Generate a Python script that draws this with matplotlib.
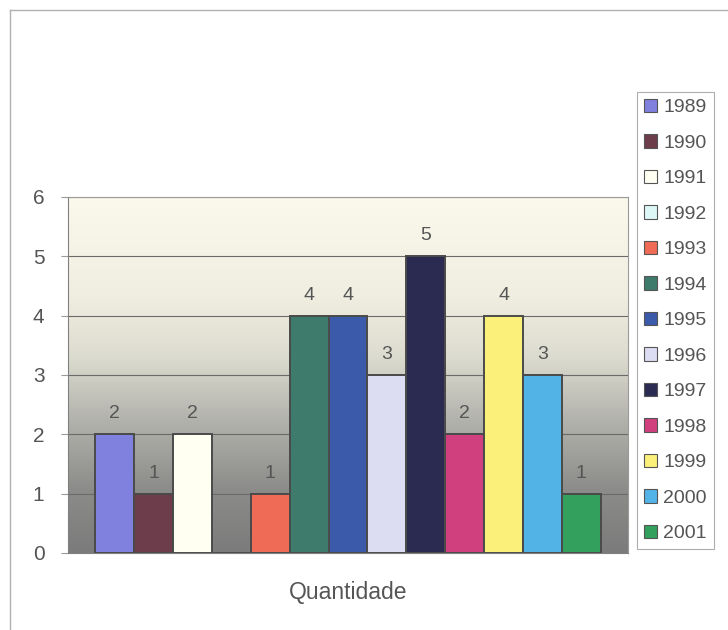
import numpy as np
import matplotlib
matplotlib.use("Agg")
import matplotlib.pyplot as plt
from matplotlib.patches import Patch
from matplotlib.lines import Line2D
from matplotlib.colors import LinearSegmentedColormap

years = ["1989", "1990", "1991", "1992", "1993", "1994", "1995",
         "1996", "1997", "1998", "1999", "2000", "2001"]
quantities = [2, 1, 2, 0, 1, 4, 4, 3, 5, 2, 4, 3, 1]
bar_colors = ["#8080df", "#6e3d4c", "#fffff2", "#ddf6f6", "#ef6b55",
              "#3e7b6c", "#3c5aaa", "#dcdcf2", "#2b2b52", "#d0407f",
              "#fbf07a", "#52b3e6", "#33a05e"]
category_label = "Quantidade"
y_ticks = [0, 1, 2, 3, 4, 5, 6]

plt.rcParams["font.family"] = ["Liberation Sans", "DejaVu Sans"]
text_color = "#555555"

fig = plt.figure(figsize=(7.28, 6.3), dpi=100)
W, H = 728, 630

# outer chart frame (left and top edges)
fig.add_artist(Line2D([10 / W, 10 / W], [0, 1 - 10 / H], color="#b0b0b0", lw=1.0))
fig.add_artist(Line2D([10 / W, 1], [1 - 10 / H, 1 - 10 / H], color="#b0b0b0", lw=1.0))

left, right, top, bottom = 68, 628, 197, 553
ax = fig.add_axes([left / W, 1 - bottom / H, (right - left) / W, (bottom - top) / H])

# vertical gradient background: cream at top, grey at bottom
grad_cmap = LinearSegmentedColormap.from_list(
    "bg", [(0.0, "#7b7b7b"), (0.18, "#8c8c8a"), (0.38, "#b4b4ae"),
           (0.55, "#dcdbcf"), (0.72, "#efeee0"), (1.0, "#faf9ec")])
grad = np.linspace(0, 1, 256).reshape(-1, 1)
x = np.arange(len(years))
pad = 0.7
ax.imshow(grad, cmap=grad_cmap, aspect="auto", origin="lower",
          extent=[-0.5 - pad, len(years) - 0.5 + pad, 0, 6], zorder=0)

for t in y_ticks[1:]:
    ax.axhline(t, color="#6a6a6a", lw=0.8, zorder=1)

ax.bar(x, quantities, width=1.0, color=bar_colors, edgecolor="#4a4a4a",
       linewidth=1.4, zorder=2)

for xi, q in zip(x, quantities):
    if q > 0:
        ax.text(xi, q + 0.2, str(q), ha="center", va="bottom",
                fontsize=14, color=text_color, zorder=3)

ax.set_xlim(-0.5 - pad, len(years) - 0.5 + pad)
ax.set_ylim(0, 6)
ax.set_yticks(y_ticks)
ax.set_yticklabels([str(t) for t in y_ticks], fontsize=15, color=text_color)
ax.tick_params(axis="y", length=5, color="#9a9a9a", pad=12)
ax.set_xticks([])
for side in ["top", "right"]:
    ax.spines[side].set_color("#9a9a9a")
    ax.spines[side].set_linewidth(0.8)
ax.spines["left"].set_color("#808080")
ax.spines["bottom"].set_color("#808080")

fig.text((left + right) / 2 / W, 1 - 592 / H, category_label, ha="center",
         va="center", fontsize=16.5, color=text_color)

handles = [Patch(facecolor=c, edgecolor="#555555", linewidth=0.8) for c in bar_colors]
leg = fig.legend(handles, years, loc="upper left",
                 bbox_to_anchor=(637 / W, 1 - 92 / H), frameon=True,
                 fontsize=14, handlelength=0.7, handleheight=0.7,
                 handletextpad=0.3, labelspacing=0.92, borderpad=0.35,
                 fancybox=False, borderaxespad=0)
leg.get_frame().set_edgecolor("#9a9a9a")
leg.get_frame().set_linewidth(0.8)
for txt in leg.get_texts():
    txt.set_color(text_color)

fig.savefig("out.png", dpi=100, facecolor="white")
